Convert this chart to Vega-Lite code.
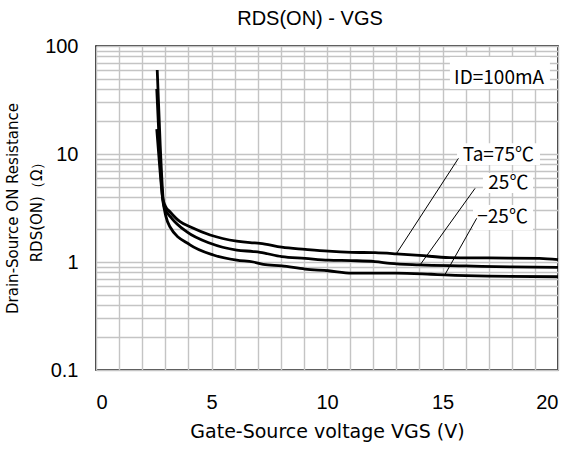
{
  "$schema": "https://vega.github.io/schema/vega-lite/v6.json",
  "width": 462,
  "height": 324,
  "autosize": {"type": "none"},
  "padding": {"left": 96, "top": 46, "right": 16, "bottom": 83},
  "background": "white",
  "title": {
    "text": "RDS(ON) - VGS",
    "font": "Liberation Sans",
    "fontSize": 20,
    "fontWeight": "normal",
    "color": "black",
    "anchor": "middle",
    "frame": "group",
    "dx": -17,
    "baseline": "alphabetic",
    "offset": -9
  },
  "config": {
    "view": {"stroke": "black", "strokeWidth": 1.6},
    "axis": {
      "domain": false,
      "ticks": false,
      "tickSize": 0,
      "grid": true,
      "gridColor": "#c4c4c4",
      "gridWidth": 1.4,
      "labelColor": "black",
      "titleColor": "black",
      "labelFont": "Liberation Sans",
      "labelFontSize": 20,
      "labelOverlap": false,
      "labelBound": false,
      "titleFont": "DejaVu Sans",
      "titleFontWeight": "normal"
    }
  },
  "datasets": {
    "curves": [
      {"t": "75", "v": 2.63, "r": 17},
      {"t": "75", "v": 2.76, "r": 7.5},
      {"t": "75", "v": 2.88, "r": 4.0},
      {"t": "75", "v": 3.0, "r": 3.3},
      {"t": "75", "v": 3.2, "r": 2.92},
      {"t": "75", "v": 3.64, "r": 2.36},
      {"t": "75", "v": 4.07, "r": 2.12},
      {"t": "75", "v": 4.94, "r": 1.78},
      {"t": "75", "v": 6.09, "r": 1.56},
      {"t": "75", "v": 6.67, "r": 1.51},
      {"t": "75", "v": 7.1, "r": 1.49},
      {"t": "75", "v": 8.04, "r": 1.37},
      {"t": "75", "v": 9.05, "r": 1.31},
      {"t": "75", "v": 10.06, "r": 1.26},
      {"t": "75", "v": 11.07, "r": 1.23},
      {"t": "75", "v": 12.08, "r": 1.22},
      {"t": "75", "v": 13.0, "r": 1.19},
      {"t": "75", "v": 14.0, "r": 1.15},
      {"t": "75", "v": 15.3, "r": 1.1},
      {"t": "75", "v": 17.0, "r": 1.09},
      {"t": "75", "v": 19.2, "r": 1.08},
      {"t": "75", "v": 20.0, "r": 1.05},
      {"t": "25", "v": 2.63, "r": 40},
      {"t": "25", "v": 2.77, "r": 9},
      {"t": "25", "v": 2.9, "r": 3.6},
      {"t": "25", "v": 2.96, "r": 3.2},
      {"t": "25", "v": 3.28, "r": 2.54},
      {"t": "25", "v": 3.92, "r": 1.91},
      {"t": "25", "v": 4.94, "r": 1.49},
      {"t": "25", "v": 6.09, "r": 1.29},
      {"t": "25", "v": 6.81, "r": 1.25},
      {"t": "25", "v": 7.1, "r": 1.23},
      {"t": "25", "v": 8.04, "r": 1.12},
      {"t": "25", "v": 9.05, "r": 1.08},
      {"t": "25", "v": 10.06, "r": 1.04},
      {"t": "25", "v": 11.07, "r": 1.03},
      {"t": "25", "v": 12.08, "r": 1.01},
      {"t": "25", "v": 12.73, "r": 0.97},
      {"t": "25", "v": 14.0, "r": 0.94},
      {"t": "25", "v": 16.0, "r": 0.92},
      {"t": "25", "v": 18.0, "r": 0.9},
      {"t": "25", "v": 20.0, "r": 0.89},
      {"t": "-25", "v": 2.65, "r": 60},
      {"t": "-25", "v": 2.78, "r": 12},
      {"t": "-25", "v": 2.91, "r": 3.7},
      {"t": "-25", "v": 3.03, "r": 2.63},
      {"t": "-25", "v": 3.2, "r": 2.12},
      {"t": "-25", "v": 4.07, "r": 1.44},
      {"t": "-25", "v": 5.08, "r": 1.16},
      {"t": "-25", "v": 6.09, "r": 1.04},
      {"t": "-25", "v": 6.81, "r": 1.0},
      {"t": "-25", "v": 7.24, "r": 0.95},
      {"t": "-25", "v": 8.04, "r": 0.92},
      {"t": "-25", "v": 9.05, "r": 0.86},
      {"t": "-25", "v": 10.06, "r": 0.83},
      {"t": "-25", "v": 11.07, "r": 0.79},
      {"t": "-25", "v": 12.08, "r": 0.79},
      {"t": "-25", "v": 13.0, "r": 0.79},
      {"t": "-25", "v": 14.5, "r": 0.77},
      {"t": "-25", "v": 15.1, "r": 0.76},
      {"t": "-25", "v": 17.0, "r": 0.74},
      {"t": "-25", "v": 20.0, "r": 0.73}
    ],
    "boxes": [
      {"v": 15.32, "v2": 19.65, "r": 79, "r2": 40},
      {"v": 15.63, "v2": 19.22, "r": 12.6, "r2": 7.9},
      {"v": 16.75, "v2": 18.92, "r": 6.67, "r2": 4.35},
      {"v": 16.32, "v2": 18.92, "r": 3.37, "r2": 1.98}
    ],
    "leaders": [
      {"v": 13.0, "r": 1.19, "v2": 15.69, "r2": 9.12},
      {"v": 14.03, "r": 0.94, "v2": 16.41, "r2": 4.81},
      {"v": 15.1, "r": 0.76, "v2": 16.48, "r2": 2.54}
    ],
    "labels": [
      {"v": 17.45, "r": 50.5, "txt": "ID=100mA"},
      {"v": 17.42, "r": 9.79, "txt": "Ta=75℃"},
      {"v": 17.85, "r": 5.35, "txt": "25℃"},
      {"v": 17.6, "r": 2.61, "txt": "−25℃"}
    ]
  },
  "encoding": {
    "x": {
      "field": "v",
      "type": "quantitative",
      "scale": {"domain": [0, 20], "nice": false, "zero": false},
      "axis": {
        "values": [0,1,2,3,4,5,6,7,8,9,10,11,12,13,14,15,16,17,18,19,20],
        "labelExpr": "datum.value % 5 == 0 ? datum.label : ''",
        "labelPadding": 22,
        "title": "Gate-Source voltage VGS (V)",
        "titleFontSize": 19,
        "titlePadding": 10
      }
    },
    "y": {
      "field": "r",
      "type": "quantitative",
      "scale": {"type": "log", "domain": [0.1, 100], "nice": false},
      "axis": {
        "values": [0.1,0.2,0.3,0.4,0.5,0.6,0.7,0.8,0.9,1,2,3,4,5,6,7,8,9,10,20,30,40,50,60,70,80,90,100],
        "labelExpr": "(datum.value == 0.1 || datum.value == 1 || datum.value == 10 || datum.value == 100) ? format(datum.value, '~g') : ''",
        "labelPadding": 18,
        "labelBaseline": "middle",
        "title": ["Drain-Source ON  Resistance", "RDS(ON)（Ω）"],
        "titleFontSize": 15,
        "titleLineHeight": 24,
        "titlePadding": 0
      }
    }
  },
  "layer": [
    {
      "data": {"name": "curves"},
      "mark": {"type": "line", "color": "black", "strokeWidth": 2.8, "interpolate": "monotone"},
      "encoding": {"detail": {"field": "t"}}
    },
    {
      "data": {"name": "boxes"},
      "mark": {"type": "rect", "color": "white"},
      "encoding": {"x2": {"field": "v2"}, "y2": {"field": "r2"}}
    },
    {
      "data": {"name": "leaders"},
      "mark": {"type": "rule", "color": "black", "strokeWidth": 1},
      "encoding": {"x2": {"field": "v2"}, "y2": {"field": "r2"}}
    },
    {
      "data": {"name": "labels"},
      "mark": {"type": "text", "font": "Noto Sans CJK JP", "fontSize": 19, "color": "black", "baseline": "middle", "align": "center"},
      "encoding": {"text": {"field": "txt"}}
    }
  ]
}
